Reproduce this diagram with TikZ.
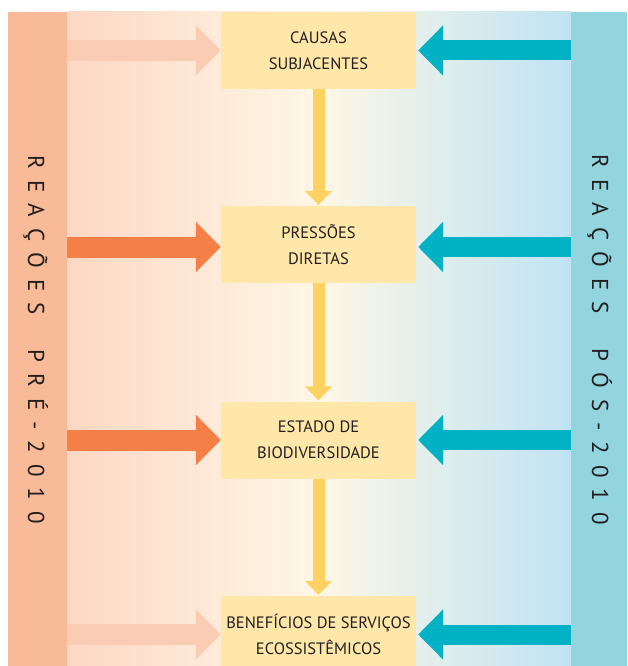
\documentclass[tikz,border=0pt]{standalone}
\usepackage{fontspec}
\setmainfont{PT Sans}
\newfontfamily\vfont{PT Sans}
\usetikzlibrary{arrows.meta}
\definecolor{barL}{HTML}{F9BA98}
\definecolor{barR}{HTML}{93D5DE}
\definecolor{bgL}{HTML}{FCD8C4}
\definecolor{bgM}{HTML}{FEF7E6}
\definecolor{bgR}{HTML}{BFE3F4}
\definecolor{boxc}{HTML}{FFE6A9}
\definecolor{orng}{HTML}{F47F47}
\definecolor{peach}{HTML}{FBCCB4}
\definecolor{teal}{HTML}{00B2C4}
\definecolor{yel}{HTML}{FDD263}
\definecolor{ink}{HTML}{231F20}
\newcommand\lgp{\hspace{11pt}}
\newcommand\wgp{\hspace{35pt}}
\begin{document}
\begin{tikzpicture}[x=1pt,y=-1pt,
  bar/.style={anchor=north west, inner sep=0pt, minimum height=670pt},
  box/.style={fill=boxc, minimum width=195pt, minimum height=77pt, inner sep=0pt,
    align=center, text=ink, font=\fontsize{16.5}{25.7}\selectfont},
  vtext/.style={rotate=-90, anchor=base, inner sep=0pt, text=ink,
    font=\vfont\fontsize{23}{23}\selectfont},
  fat/.style={line width=21pt, -{Triangle[length=25pt,width=49pt]}},
  peacharr/.style={fat, draw=peach},
  orngarr/.style={fat, draw=orng},
  tealarr/.style={fat, line width=20pt, draw=teal},
  yelarr/.style={line width=12pt, draw=yel, -{Triangle[length=14pt,width=27pt]}, shorten >=1pt}
]
\useasboundingbox (0,0) rectangle (627,666);
\clip (0,0) rectangle (627,666);
\fill[white] (0,0) rectangle (627,666);
\shade[left color=bgL, right color=bgR, middle color=bgM] (67,12) rectangle (571,680);
\node[bar, fill=barL, minimum width=59pt] (L) at (8,12) {};
\node[bar, fill=barR, minimum width=56pt] (R) at (571,12) {};
\node[vtext] (Lt) at (28,340) {R\lgp E\lgp A\lgp Ç\lgp Õ\lgp E\lgp S\wgp P\lgp R\lgp É\lgp -\lgp 2\lgp 0\lgp 1\lgp 0};
\node[vtext] (Rt) at (592,340) {R\lgp E\lgp A\lgp Ç\lgp Õ\lgp E\lgp S\wgp P\lgp Ó\lgp S\lgp -\lgp 2\lgp 0\lgp 1\lgp 0};
\node[box] (b1) at (318.5,50.5) {CAUSAS\\SUBJACENTES};
\node[box] (b2) at (318.5,244.5) {PRESSÕES\\DIRETAS};
\node[box] (b3) at (318.5,440) {ESTADO DE\\BIODIVERSIDADE};
\node[box] (b4) at (318.5,634.5) {BENEFÍCIOS DE SERVIÇOS\\ECOSSISTÊMICOS};
\draw[yelarr] (b1.south) -- (b2.north);
\draw[yelarr] (b2.south) -- (b3.north);
\draw[yelarr] (b3.south) -- (b4.north);
\draw[peacharr] (L.east |- b1.west) -- (b1.west);
\draw[orngarr] ([yshift=-2.5pt]L.east |- b2.west) -- ([yshift=-2.5pt]b2.west);
\draw[orngarr] (L.east |- b3.west) -- (b3.west);
\draw[peacharr] (L.east |- b4.west) -- (b4.west);
\draw[tealarr] (R.west |- b1.east) -- ([xshift=2pt]b1.east);
\draw[tealarr] ([yshift=-2.5pt]R.west |- b2.east) -- ([xshift=2pt,yshift=-2.5pt]b2.east);
\draw[tealarr] (R.west |- b3.east) -- ([xshift=2pt]b3.east);
\draw[tealarr] (R.west |- b4.east) -- ([xshift=2pt]b4.east);
\end{tikzpicture}
\end{document}
